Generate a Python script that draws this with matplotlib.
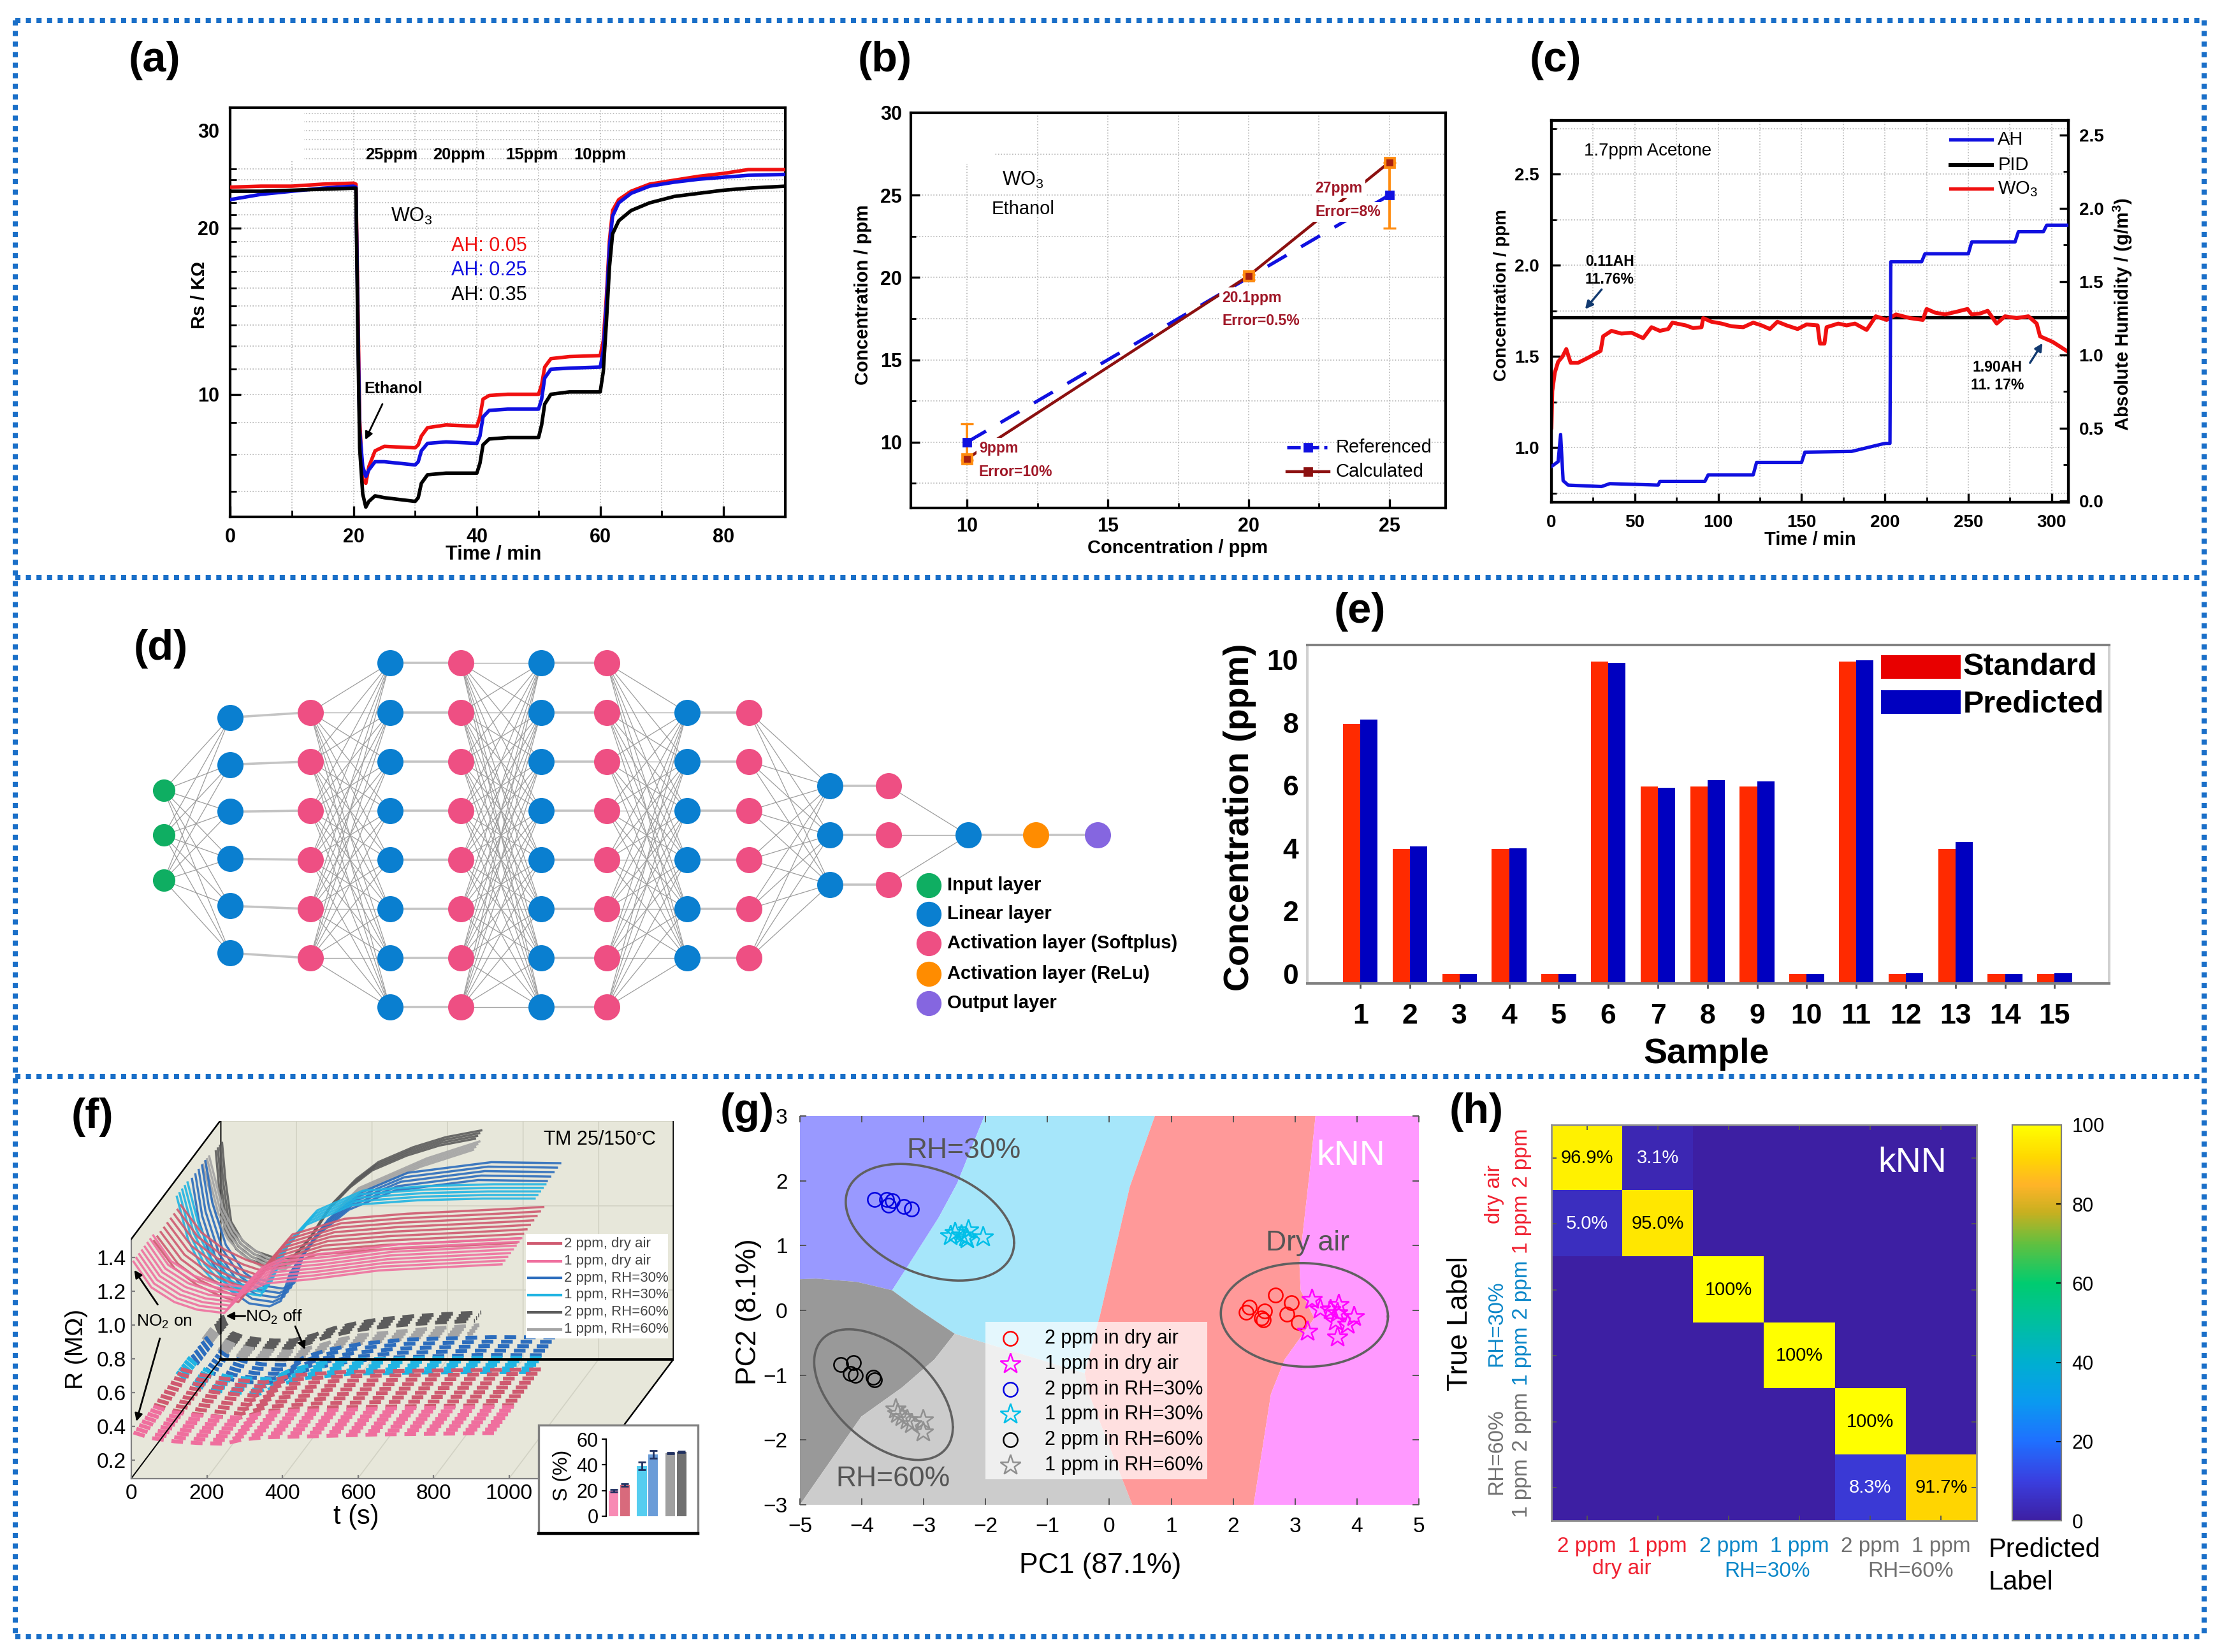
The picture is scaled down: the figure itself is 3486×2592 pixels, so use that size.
import numpy as np
import matplotlib
matplotlib.use("Agg")
import matplotlib.pyplot as plt
from matplotlib.colors import LinearSegmentedColormap
from matplotlib.patches import Rectangle, Polygon

plt.rcParams['font.family'] = ['Liberation Sans', 'DejaVu Sans']
plt.rcParams['mathtext.fontset'] = 'custom'
plt.rcParams['mathtext.rm'] = 'Liberation Sans'
plt.rcParams['mathtext.it'] = 'Liberation Sans'
plt.rcParams['mathtext.bf'] = 'Liberation Sans:bold'
plt.rcParams['mathtext.default'] = 'regular'

W, H = 3487, 2592
DPI = 200

## panel a ##
a_t = [0, 5, 10, 15, 20, 20.4, 20.7, 21, 21.5, 22, 22.5, 23.5, 25, 30, 30.5, 31, 32, 35, 40, 40.5, 41, 42, 45, 50,
       50.5, 51, 52, 55, 60, 60.5, 61, 61.5, 62, 63, 65, 68, 72, 76, 80, 84, 90]
a_red = [23.7, 23.8, 23.8, 24.0, 24.1, 24.0, 15, 9.0, 7.0, 6.9, 7.4, 7.9, 8.05, 8.0, 8.1, 8.4, 8.7, 8.8, 8.75, 9.1,
         9.8, 9.95, 10.0, 10.0, 10.4, 11.2, 11.6, 11.7, 11.75, 12.5, 15, 19, 21.5, 22.5, 23.3, 24.0, 24.4, 24.8,
         25.1, 25.5, 25.5]
a_blue = [22.5, 23.0, 23.3, 23.6, 23.8, 23.7, 14, 8.6, 7.4, 7.1, 7.3, 7.55, 7.55, 7.45, 7.55, 7.9, 8.15, 8.2, 8.15,
          8.4, 9.1, 9.35, 9.4, 9.4, 9.8, 10.7, 11.1, 11.15, 11.2, 12, 14.5, 18.5, 21, 22.2, 23.1, 23.8, 24.2, 24.5,
          24.7, 24.9, 25.0]
a_black = [23.3, 23.3, 23.4, 23.5, 23.6, 23.6, 13, 8.0, 6.6, 6.25, 6.4, 6.55, 6.5, 6.4, 6.5, 6.9, 7.15, 7.2, 7.2,
           7.5, 8.1, 8.3, 8.35, 8.35, 8.8, 9.6, 10.0, 10.1, 10.1, 11, 13.5, 17, 19.5, 20.6, 21.5, 22.2, 22.8, 23.1,
           23.4, 23.6, 23.8]

## panel b ##
b_x = [10, 20, 25]
b_ref = [10, 20, 25]
b_calc = [9, 20.1, 27]
b_err = [1.1, 0.15, 2]

## panel c ##
c_ah_t = [0, 4, 5.5, 7, 10, 30, 35, 64, 65, 92, 94, 121, 123, 150, 152, 180, 200, 203, 203.5, 222, 224, 250, 252,
          278, 280, 295, 297, 310]
c_ah = [0.237, 0.27, 0.456, 0.14, 0.11, 0.10, 0.12, 0.11, 0.135, 0.135, 0.18, 0.18, 0.265, 0.265, 0.335, 0.34, 0.395,
        0.395, 1.635, 1.635, 1.69, 1.69, 1.77, 1.77, 1.84, 1.84, 1.885, 1.885]
c_wo3_t = [0, 0.5, 2, 4, 6.7, 8.9, 11.5, 16, 21.5, 29.5, 31, 36, 42, 48, 55, 60, 65, 70, 72.5, 80.5, 85, 90, 91, 96,
           102, 108, 115, 121, 126, 131, 135.5, 141, 147.6, 153, 159.6, 161, 163.7, 165, 172, 177, 182, 189, 194.5,
           201, 206.6, 215, 222.7, 225, 230, 236, 243, 249.5, 252, 257, 261.6, 267, 272, 279, 286, 291, 293, 300.5, 309]
c_wo3 = [1.11, 1.31, 1.41, 1.47, 1.50, 1.54, 1.465, 1.465, 1.49, 1.53, 1.61, 1.64, 1.625, 1.63, 1.60, 1.66, 1.64,
         1.65, 1.685, 1.67, 1.655, 1.66, 1.71, 1.69, 1.68, 1.665, 1.66, 1.685, 1.67, 1.65, 1.69, 1.67, 1.65, 1.675,
         1.67, 1.57, 1.57, 1.66, 1.68, 1.67, 1.68, 1.645, 1.72, 1.70, 1.73, 1.71, 1.70, 1.76, 1.74, 1.73, 1.745, 1.76,
         1.73, 1.735, 1.75, 1.68, 1.72, 1.71, 1.72, 1.68, 1.61, 1.58, 1.53]
c_pid = 1.714

## panel d ##
layer_x = [71, 167, 283, 398, 501, 617, 712, 828, 918, 1035, 1120, 1235, 1333, 1422]
layer_n = [3, 6, 6, 8, 8, 8, 8, 6, 6, 3, 3, 1, 1, 1]
layer_kind = ['in', 'lin', 'soft', 'lin', 'soft', 'lin', 'soft', 'lin', 'soft', 'lin', 'soft', 'lin', 'relu', 'out']
layer_full = [True, False, True, False, True, False, True, False, True, False, True, False, False]
d_colors = {'in': '#0fae62', 'lin': '#0a7fd0', 'soft': '#ee4f83', 'relu': '#ff8c00', 'out': '#8566e0'}
d_legend = [('in', 'Input layer'), ('lin', 'Linear layer'), ('soft', 'Activation layer (Softplus)'),
            ('relu', 'Activation layer (ReLu)'), ('out', 'Output layer')]

## panel e ##
e_samples = list(range(1, 16))
e_standard = [7.95, 3.97, 0, 3.97, 0, 9.95, 5.97, 5.97, 5.97, 0, 9.95, 0, 3.97, 0, 0]
e_predicted = [8.1, 4.05, 0, 4.0, 0, 9.9, 5.92, 6.17, 6.12, 0, 9.98, 0.02, 4.2, 0, 0.02]

## panel f ##
f_pink1_t = [6, 53, 114, 174, 246, 294, 355, 475, 655, 938, 980]
f_pink1 = [1.374, 1.222, 1.135, 1.09, 1.07, 1.184, 1.245, 1.27, 1.322, 1.354, 1.358]
f_pink2_t = [1, 55, 115, 175, 224, 296, 434, 600, 880, 960]
f_pink2 = [1.32, 1.159, 1.059, 0.996, 0.959, 1.147, 1.24, 1.27, 1.30, 1.31]
f_blue1_t = [2, 32, 68, 104, 147, 224, 273, 345, 466, 640, 812, 949]
f_blue1 = [1.406, 1.15, 0.986, 0.898, 0.848, 0.82, 1.06, 1.24, 1.357, 1.385, 1.395, 1.395]
f_blue2_t = [9, 27, 63, 112, 160, 214, 244, 268, 334, 424, 544, 766, 948]
f_blue2 = [1.413, 1.167, 0.916, 0.752, 0.676, 0.658, 0.69, 0.854, 1.067, 1.23, 1.343, 1.406, 1.40]
f_gray1_t = [0, 35, 66, 102, 156, 215, 282, 340, 396, 486, 576, 715]
f_gray1 = [1.384, 1.08, 0.944, 0.855, 0.78, 0.76, 0.893, 1.07, 1.196, 1.284, 1.372, 1.472]
f_gray2_t = [8, 16.5, 32, 62, 98, 146, 194, 249, 303, 363, 422, 513, 600, 694]
f_gray2 = [1.386, 1.173, 0.92, 0.807, 0.744, 0.707, 0.707, 0.846, 1.034, 1.172, 1.273, 1.36, 1.42, 1.46]
f_families = [
    ('1 ppm, dry air', '#ef6f9e', f_pink1_t, f_pink1, 0.00, 0.22, 8),
    ('2 ppm, dry air', '#cf5a70', f_pink2_t, f_pink2, 0.25, 0.55, 9),
    ('1 ppm, RH=30%', '#20b4e2', f_blue1_t, f_blue1, 0.50, 0.62, 5),
    ('2 ppm, RH=30%', '#2c6dbd', f_blue2_t, f_blue2, 0.64, 0.79, 5),
    ('1 ppm, RH=60%', '#a4a4a4', f_gray1_t, f_gray1, 0.80, 0.87, 4),
    ('2 ppm, RH=60%', '#5c5c5c', f_gray2_t, f_gray2, 0.91, 0.98, 4),
]
f_inset_x = [1, 2, 3.5, 4.5, 6, 7]
f_inset_s = [20, 24.5, 39, 48, 49, 50]
f_inset_err = [1, 1, 3, 3, 0.5, 0.5]
f_inset_c = ['#f88ab4', '#d86a7c', '#55cdf0', '#6a9cd8', '#a0a0a0', '#707070']

## panel g ##
g_red_c = ([2.68, 2.94, 2.87, 3.05, 2.26, 2.21, 2.51, 2.46, 2.49], [0.24, 0.12, -0.06, -0.19, 0.05, -0.03, -0.01, -0.12, -0.15])
g_mag_s = ([3.27, 3.40, 3.20, 3.70, 3.68, 3.65, 3.95, 3.85, 3.68, 3.57], [0.17, 0.02, -0.32, 0.09, -0.04, -0.17, -0.10, -0.22, -0.41, 0.01])
g_blue_c = ([-3.79, -3.60, -3.51, -3.57, -3.32, -3.20], [1.71, 1.71, 1.69, 1.62, 1.60, 1.56])
g_cyan_s = ([-2.57, -2.50, -2.28, -2.32, -2.39, -2.04, -2.30], [1.15, 1.20, 1.24, 1.13, 1.16, 1.13, 1.10])
g_black_c = ([-4.34, -4.13, -4.19, -4.10, -3.82, -3.79], [-0.84, -0.81, -0.97, -1.00, -1.03, -1.07])
g_gray_s = ([-3.46, -3.35, -3.27, -3.01, -3.01, -3.20, -3.42], [-1.52, -1.64, -1.69, -1.69, -1.88, -1.75, -1.59])
g_regions = [
    ('#9999ff', [(-5, 3), (-2.02, 3), (-2.46, 1.96), (-2.76, 1.43), (-3.24, 0.71), (-3.51, 0.31), (-4.08, 0.44), (-4.74, 0.49), (-5, 0.48)]),
    ('#a6e6fa', [(-2.02, 3), (0.735, 3), (0.33, 1.91), (-0.15, -0.07), (-0.4, -0.97), (-2.5, -0.36), (-3.125, 0.04), (-3.51, 0.31), (-3.24, 0.71), (-2.76, 1.43), (-2.46, 1.96)]),
    ('#999999', [(-5, 0.48), (-4.74, 0.49), (-4.08, 0.44), (-3.51, 0.31), (-3.125, 0.04), (-2.5, -0.36), (-2.83, -0.76), (-3.35, -1.19), (-4.01, -1.64), (-5, -3)]),
    ('#cccccc', [(-5, -3), (-4.01, -1.64), (-3.35, -1.19), (-2.83, -0.76), (-2.5, -0.36), (-0.4, -0.97), (-0.33, -1.29), (0.37, -3)]),
    ('#ff9999', [(0.735, 3), (3.33, 3), (3.24, 2.17), (3.07, 0.73), (3.09, 0.31), (3.31, -0.12), (2.83, -0.76), (2.61, -1.29), (2.33, -3), (0.37, -3), (-0.33, -1.29), (-0.4, -0.97), (-0.15, -0.07), (0.33, 1.91)]),
    ('#ff99ff', [(3.33, 3), (5, 3), (5, -3), (2.33, -3), (2.61, -1.29), (2.83, -0.76), (3.31, -0.12), (3.09, 0.31), (3.07, 0.73), (3.24, 2.17)]),
]
# centre x, centre y, half width, half height, tilt
g_ellipses = [(-2.9, 1.36, 1.36, 0.90, -0.35), (3.15, -0.07, 1.35, 0.80, -0.03), (-3.65, -1.30, 1.12, 1.008, -0.5)]

## panel h ##
h_matrix = np.array([
    [96.9, 3.1, 0, 0, 0, 0],
    [5.0, 95.0, 0, 0, 0, 0],
    [0, 0, 100, 0, 0, 0],
    [0, 0, 0, 100, 0, 0],
    [0, 0, 0, 0, 100, 0],
    [0, 0, 0, 0, 8.3, 91.7],
])
h_text = {(0, 0): '96.9%', (0, 1): '3.1%', (1, 0): '5.0%', (1, 1): '95.0%', (2, 2): '100%', (3, 3): '100%',
          (4, 4): '100%', (5, 4): '8.3%', (5, 5): '91.7%'}
h_ticks = ['2 ppm', '1 ppm', '2 ppm', '1 ppm', '2 ppm', '1 ppm']
h_tick_c = ['#f02030', '#f02030', '#0a86c8', '#0a86c8', '#707070', '#707070']
parula_stops = [(0, '#3d1fa3'), (0.10, '#3a3fe0'), (0.20, '#1f70ff'), (0.30, '#0a9af0'), (0.40, '#00afd0'),
                (0.50, '#00bfa0'), (0.60, '#00cc70'), (0.70, '#60c040'), (0.78, '#c8b020'), (0.85, '#ffb428'),
                (0.92, '#ffd700'), (1.0, '#ffff00')]


fig = plt.figure(figsize=(W / DPI, H / DPI), dpi=DPI, facecolor='white')


def add_ax(l, t, r, b):
    return fig.add_axes([l / W, 1 - b / H, (r - l) / W, (b - t) / H])


# overlay in pixels for frames, captions and hand placed keys
ov = fig.add_axes([0, 0, 1, 1], zorder=10)
ov.set_xlim(0, W)
ov.set_ylim(H, 0)
ov.axis('off')


# crop readings back to pixels
def za(x, y): return 100 + x / 1.3, 30 + y / 1.78
def zb(x, y): return 1300 + x / 1.493, 30 + y / 1.78
def zc(x, y): return 2350 + x / 1.4255, 30 + y / 1.78
def ze(x, y): return 1880 + x / 1.081, 920 + y / 2.01
def zf(x, y): return 80 + x / 1.493, 1700 + y / 1.845
def zg(x, y): return 1130 + x / 1.4, 1700 + y / 1.845
def zh(x, y): return 2250 + x / 1.4255, 1700 + y / 1.845


def txt(pos, s, size, **kw):
    kw.setdefault('ha', 'center')
    kw.setdefault('va', 'center')
    ov.text(pos[0], pos[1], s, fontsize=size, **kw)


def arrow(p0, p1, color='black', lw=1.0):
    ov.annotate('', xy=p1, xytext=p0, arrowprops=dict(arrowstyle='-|>', color=color, lw=lw, mutation_scale=9, shrinkA=0, shrinkB=0))


# dotted frames
frame_c = '#1a6fc8'
for y in (32, 906, 1689, 2568):
    ov.plot([24, 3458], [y, y], color=frame_c, lw=2.9, ls=(0, (1, 1.06)))
for x in (24, 3458):
    ov.plot([x, x], [32, 2568], color=frame_c, lw=2.9, ls=(0, (1, 1.06)))

for pos, s in [((242, 95), '(a)'), ((1388, 95), '(b)'), ((2440, 95), '(c)'), ((252, 1018), '(d)'), ((2133, 960), '(e)'),
               ((145, 1753), '(f)'), ((1172, 1745), '(g)'), ((2316, 1745), '(h)')]:
    txt(pos, s, 24, fontweight='bold')


def style_box(ax, lw=1.4):
    for s in ax.spines.values():
        s.set_linewidth(lw)
    ax.set_axisbelow(True)


## (a) ##
ax = add_ax(361, 169, 1232, 811)
ax.set_yscale('log')
ax.set_xlim(0, 90)
ax.set_ylim(6, 33)
ax.set_xticks([0, 20, 40, 60, 80])
ax.set_xticks([10, 30, 50, 70], minor=True)
ax.set_yticks([10, 20, 30])
ax.set_yticklabels(['10', '20', '30'])
ax.set_yticks([v for v in np.arange(1, 30) * 10 / 9 + 10 * 5 / 9 if 6 < v < 33 and round(v, 3) not in (10, 20, 30)], minor=True)
ax.yaxis.set_minor_formatter(plt.NullFormatter())
ax.tick_params(which='major', direction='in', length=6, width=1.2, labelsize=11, pad=6)
ax.tick_params(which='minor', direction='in', length=3.5, width=1.0)
for lab in ax.get_xticklabels() + ax.get_yticklabels():
    lab.set_fontweight('bold')
ax.grid(True, which='both', color='#b4b4b4', ls=':', lw=0.6)
ax.add_patch(Rectangle((0, 26.4), 12, 8, fc='white', ec='none', zorder=1))
ax.plot(a_t, a_red, color='#f01010', lw=2.0, zorder=3)
ax.plot(a_t, a_blue, color='#1010e0', lw=2.0, zorder=3)
ax.plot(a_t, a_black, color='black', lw=2.0, zorder=4)
style_box(ax, 1.5)
txt(za(877, 1495), 'Time / min', 11, fontweight='bold')
txt(za(277, 770), 'Rs / KΩ', 10.5, rotation=90, fontweight='bold')
for xz, s in [(668, '25ppm'), (806, '20ppm'), (955, '15ppm'), (1094, '10ppm')]:
    txt(za(xz, 380), s, 9.2, fontweight='bold')
txt(za(710, 550), 'WO$_3$', 11)
txt(za(868, 634), 'AH: 0.05', 11, color='#f01010')
txt(za(868, 702), 'AH: 0.25', 11, color='#1010e0')
txt(za(868, 770), 'AH: 0.35', 11, color='black')
txt(za(672, 1033), 'Ethanol', 9, fontweight='bold')
arrow(za(650, 1075), za(615, 1175))

## (b) ##
ax = add_ax(1429, 177, 2268, 797)
ax.set_xlim(8, 27)
ax.set_ylim(6, 30)
ax.set_xticks([10, 15, 20, 25])
ax.set_xticks([12.5, 17.5, 22.5], minor=True)
ax.set_yticks([10, 15, 20, 25, 30])
ax.set_yticks([7.5, 12.5, 17.5, 22.5, 27.5], minor=True)
ax.tick_params(which='major', direction='in', length=5, width=1.2, labelsize=11, pad=5)
ax.tick_params(which='minor', direction='in', length=3, width=1.0)
for lab in ax.get_xticklabels() + ax.get_yticklabels():
    lab.set_fontweight('bold')
ax.grid(True, which='both', color='#b4b4b4', ls=':', lw=0.6)
ax.add_patch(Rectangle((8, 26.9), 2.97, 3.1, fc='white', ec='none', zorder=1))
ax.plot(b_x, b_ref, color='#1010e0', lw=1.9, ls=(0, (6.5, 5)), zorder=3)
ax.plot(b_x, b_ref, color='#1010e0', ls='none', marker='s', ms=4.5, zorder=5.5)
ax.errorbar(b_x, b_ref, yerr=b_err, fmt='none', ecolor='#ff8c10', elinewidth=1.4, capsize=3.5, capthick=1.2, zorder=4)
ax.plot(b_x, b_calc, color='#8c1010', lw=1.6, zorder=5)
ax.plot(b_x, b_calc, ls='none', marker='s', ms=5.5, mfc='#ff8c10', mec='#ff8c10', zorder=5.6)
ax.plot(b_x, b_calc, ls='none', marker='s', ms=3, color='#a82010', zorder=5.7)
style_box(ax, 1.5)
txt(zb(818, 1478), 'Concentration / ppm', 10.5, fontweight='bold')
txt(zb(80, 770), 'Concentration / ppm', 10.5, rotation=90, fontweight='bold')
txt(zb(455, 450), 'WO$_3$', 11)
txt(zb(455, 530), 'Ethanol', 10.5)
white = dict(fc='white', ec='none', pad=1.5)
for pos, s in [((352, 1198), '9ppm'), ((352, 1265), 'Error=10%'), ((922, 778), '20.1ppm'), ((922, 842), 'Error=0.5%'),
               ((1140, 472), '27ppm'), ((1140, 538), 'Error=8%')]:
    txt(zb(*pos), s, 8.3, color='#a01828', fontweight='bold', ha='left', bbox=white)
ov.plot(*zip(zb(1073, 1196), zb(1168, 1196)), color='#1010e0', lw=1.9, ls=(0, (4, 1.5)))
ov.plot(*zb(1123, 1196), marker='s', ms=4.5, color='#1010e0')
ov.plot(*zip(zb(1073, 1263), zb(1172, 1263)), color='#8c1010', lw=1.6)
ov.plot(*zb(1123, 1263), marker='s', ms=4.5, color='#8c1010')
txt(zb(1188, 1196), 'Referenced', 10.5, ha='left')
txt(zb(1188, 1263), 'Calculated', 10.5, ha='left')

## (c) ##
ax = add_ax(2434, 189, 3245, 788)
ax.set_xlim(0, 310)
ax.set_ylim(0.70, 2.794)
ax.set_xticks([0, 50, 100, 150, 200, 250, 300])
ax.set_xticks([25, 75, 125, 175, 225, 275], minor=True)
ax.set_yticks([1.0, 1.5, 2.0, 2.5])
ax.set_yticks([0.75, 1.25, 1.75, 2.25, 2.75], minor=True)
ax.tick_params(which='major', direction='in', length=5, width=1.2, labelsize=10, pad=7)
ax.tick_params(which='minor', direction='in', length=3, width=1.0)
for lab in ax.get_xticklabels() + ax.get_yticklabels():
    lab.set_fontweight('bold')
ax.grid(True, which='both', color='#b4b4b4', ls=':', lw=0.6)
ax.axhline(c_pid, color='black', lw=1.9, zorder=3)
ax.plot(c_wo3_t, c_wo3, color='#f01010', lw=2.2, zorder=4)
style_box(ax, 1.5)
ax2 = ax.twinx()
ax2.set_ylim(-0.007, 2.6)
ax2.set_yticks([0, 0.5, 1.0, 1.5, 2.0, 2.5])
ax2.set_yticklabels(['0.0', '0.5', '1.0', '1.5', '2.0', '2.5'])
ax2.set_yticks([0.25, 0.75, 1.25, 1.75, 2.25], minor=True)
ax2.tick_params(which='major', direction='in', length=5, width=1.2, labelsize=10, pad=6)
ax2.tick_params(which='minor', direction='in', length=3, width=1.0)
for lab in ax2.get_yticklabels():
    lab.set_fontweight('bold')
ax2.plot(c_ah_t, c_ah, color='#1010e0', lw=1.9, zorder=5)
for s in ax2.spines.values():
    s.set_linewidth(1.5)
txt(zc(698, 1455), 'Time / min', 10.5, fontweight='bold')
txt(zc(8, 770), 'Concentration / ppm', 10, rotation=90, fontweight='bold')
txt(zc(1398, 825), 'Absolute Humidity / (g/m$^3$)', 10.5, rotation=90, fontweight='bold')
txt(zc(335, 368), '1.7ppm Acetone', 10)
txt(zc(250, 678), '0.11AH', 8.3, fontweight='bold')
txt(zc(250, 727), '11.76%', 8.3, fontweight='bold')
txt(zc(1117, 972), '1.90AH', 8.3, fontweight='bold')
txt(zc(1117, 1023), '11. 17%', 8.3, fontweight='bold')
arrow(zc(232, 755), zc(195, 810), color='#123a70', lw=1.2)
arrow(zc(1190, 960), zc(1218, 905), color='#123a70', lw=1.2)
for y, c, s, lw in [(337, '#1010e0', 'AH', 1.9), (408, 'black', 'PID', 2.2), (474, '#f01010', 'WO$_3$', 1.9)]:
    ov.plot(*zip(zc(1012, y), zc(1105, y)), color=c, lw=lw)
    txt(zc(1118, y), s, 10.5, ha='left')

## (d) ##
ax = add_ax(180, 950, 1880, 1670)
ax.set_xlim(0, 1568)
ax.set_ylim(1568, 0)
ax.axis('off')
d_spacing = {8: 168, 6: 168, 3: 168, 1: 0}
layers = []
for i, (x, n) in enumerate(zip(layer_x, layer_n)):
    step = d_spacing[n]
    if i == 0:
        step = 154
    if i == 1:
        step = 161
    layers.append([(x, 785 + (k - (n - 1) / 2) * step) for k in range(n)])
for i, full in enumerate(layer_full):
    if full:
        for p in layers[i]:
            for q in layers[i + 1]:
                ax.plot([p[0], q[0]], [p[1], q[1]], color='#9c9c9c', lw=0.45, zorder=1)
    else:
        for p, q in zip(layers[i], layers[i + 1]):
            ax.plot([p[0], q[0]], [p[1], q[1]], color='#c4c4c4', lw=1.3, zorder=1)
for i, pts in enumerate(layers):
    size = 160 if layer_kind[i] == 'in' else 218
    ax.scatter([p[0] for p in pts], [p[1] for p in pts], s=size, color=d_colors[layer_kind[i]], lw=0, zorder=2)
for (kind, s), y in zip(d_legend, [955, 1055, 1155, 1258, 1358]):
    ax.scatter([1178], [y], s=200, color=d_colors[kind], lw=0, zorder=2)
    ax.text(1205, y, s, fontsize=10.5, fontweight='bold', va='center', ha='left')

## (e) ##
ax = add_ax(2051, 1012, 3309, 1543)
ax.set_xlim(-0.07, 16.1)
e_floor = -0.31
ax.set_ylim(e_floor, 10.47)
e_x = np.array(e_samples)
ax.bar(e_x - 0.175, np.array(e_standard) - e_floor, 0.35, bottom=e_floor, color='#ff2a00')
ax.bar(e_x + 0.175, np.array(e_predicted) - e_floor, 0.35, bottom=e_floor, color='#0000c0')
ax.set_xticks(e_samples)
ax.set_yticks([0, 2, 4, 6, 8, 10])
ax.tick_params(axis='x', direction='out', length=3, width=1, labelsize=16, pad=8, color='#555555')
ax.tick_params(axis='y', length=0, labelsize=16, pad=5)
for lab in ax.get_xticklabels() + ax.get_yticklabels():
    lab.set_fontweight('bold')
for s in ax.spines.values():
    s.set_color('#808080')
    s.set_linewidth(1.4)
ax.spines['left'].set_color('#d0d0d0')
ax.spines['right'].set_color('#d0d0d0')
txt(ze(862, 1475), 'Sample', 20, fontweight='bold')
txt(ze(70, 728), 'Concentration (ppm)', 20, rotation=90, fontweight='bold')
ov.add_patch(Rectangle(ze(1158, 218), 125, 37, fc='#e80000', ec='none'))
ov.add_patch(Rectangle(ze(1158, 328), 125, 37, fc='#0000c0', ec='none'))
txt(ze(1297, 255), 'Standard', 17.5, ha='left', fontweight='bold')
txt(ze(1297, 372), 'Predicted', 17.5, ha='left', fontweight='bold')

## (f) ##
ax = add_ax(206, 1758.5, 1056.6, 2319.5)
ax.set_xlim(0, 1435)
ax.set_ylim(0.0916, 2.208)
f_t0, f_t1, f_r0, f_r1 = 0, 1198, 0.0916, 1.508
f_dt, f_dr = 237, 0.705   # offset of the back wall
wall = '#e7e7da'
ax.patch.set_alpha(0)
ax.add_patch(Polygon([(f_t0, f_r0), (f_t1, f_r0), (f_t1 + f_dt, f_r0 + f_dr), (f_t1 + f_dt, f_r1 + f_dr),
                      (f_t0 + f_dt, f_r1 + f_dr), (f_t0, f_r1)], fc=wall, ec='none', zorder=0))
for t in [200, 400, 600, 800, 1000]:
    ax.plot([t, t + f_dt, t + f_dt], [f_r0, f_r0 + f_dr, f_r1 + f_dr], color='#d2d2c4', lw=0.6, zorder=0.5)
for r in [0.5, 1.0, 1.5]:
    ax.plot([f_t0 + f_dt, f_t1 + f_dt], [r + f_dr, r + f_dr], color='#d2d2c4', lw=0.6, zorder=0.5)
for label, color, ts, rs, d0, d1, n in reversed(f_families):
    ts = np.array(ts, dtype=float)
    rs = np.array(rs, dtype=float)
    for d in np.linspace(d0, d1, n):
        shadow = 0.36 + (rs - 1.36) * 0.22
        ax.plot(ts + d * f_dt, shadow + d * f_dr, color=color, lw=2.2, ls=(0, (3, 2)), zorder=1)
        ax.plot(ts + d * f_dt, rs + d * f_dr, color=color, lw=1.25, zorder=3, alpha=0.9)
ax.plot([f_t0, f_t0 + f_dt, f_t0 + f_dt], [f_r0, f_r0 + f_dr, f_r1 + f_dr], color='black', lw=0.7, zorder=2)
ax.plot([f_t0 + f_dt, f_t1 + f_dt], [f_r0 + f_dr, f_r0 + f_dr], color='black', lw=1.4, zorder=4)
ax.plot([f_t0, f_t0 + f_dt, f_t1 + f_dt, f_t1 + f_dt, f_t1], [f_r1, f_r1 + f_dr, f_r1 + f_dr, f_r0 + f_dr, f_r0],
        color='black', lw=0.9, zorder=4)
for s in ['top', 'right']:
    ax.spines[s].set_visible(False)
ax.spines['left'].set_bounds(f_r0, f_r1)
ax.spines['bottom'].set_bounds(f_t0, f_t1)
ax.spines['left'].set_color('#808080')
ax.spines['bottom'].set_color('#808080')
ax.set_xticks([0, 200, 400, 600, 800, 1000])
ax.set_yticks([0.2, 0.4, 0.6, 0.8, 1.0, 1.2, 1.4])
ax.tick_params(axis='both', labelsize=12, length=2, direction='in', color='#808080', pad=3)
txt(zf(715, 1255), 't (s)', 15)
txt(zf(60, 770), 'R (MΩ)', 14, rotation=90)
txt(zf(1285, 162), 'TM 25/150$^{\\circ}$C', 11)
ov.add_patch(Rectangle(zf(1113, 435), (1445 - 1113) / 1.493, (738 - 435) / 1.845, fc='white', ec='none', zorder=2))
for y, fam in zip([464, 514, 563, 612, 662, 712], [1, 0, 3, 2, 5, 4]):
    label, color = f_families[fam][:2]
    ov.plot(*zip(zf(1118, y), zf(1195, y)), color=color, lw=1.5, zorder=3)
    txt(zf(1202, y), label, 8, ha='left', color='#444444', zorder=3)
txt(zf(265, 690), 'NO$_2$ on', 9.5)
txt(zf(522, 676), 'NO$_2$ off', 9.5)
arrow(zf(250, 640), zf(195, 540))
arrow(zf(255, 738), zf(200, 978))
arrow(zf(455, 673), zf(410, 673))
arrow(zf(572, 703), zf(595, 770))
ov.add_patch(Rectangle(zf(1142, 988), 250, 170.5, fc='white', ec='#808080', lw=1.2, zorder=2))
ov.plot(*zip(zf(1142, 1302), zf(1515, 1302)), color='black', lw=1.6, zorder=3)
axi = add_ax(951, 2258, 1080, 2379)
axi.set_zorder(20)
axi.patch.set_alpha(0)
axi.bar(f_inset_x, f_inset_s, 0.85, color=f_inset_c, yerr=f_inset_err, error_kw=dict(ecolor='#203060', lw=1, capsize=2))
axi.set_xlim(0.35, 7.6)
axi.set_ylim(0, 60)
axi.set_xticks([])
axi.set_yticks([0, 20, 40, 60])
axi.tick_params(labelsize=11, length=2.5, pad=2)
for s in ['top', 'right', 'bottom']:
    axi.spines[s].set_visible(False)
ov.text(*zf(1198, 1135), 'S (%)', fontsize=11.5, rotation=90, ha='center', va='center', zorder=30)

## (g) ##
ax = add_ax(1255, 1751, 2226, 2361)
ax.set_xlim(-5, 5)
ax.set_ylim(-3, 3)
for color, pts in g_regions:
    ax.add_patch(Polygon(pts, fc=color, ec='none', zorder=1))
for s in g_ellipses:
    cx, cy, ax_x, ax_y, rho = s
    th = np.linspace(0, 2 * np.pi, 200)
    ax.plot(cx + ax_x * np.cos(th), cy + ax_y * (rho * np.cos(th) + np.sqrt(1 - rho ** 2) * np.sin(th)),
            color='#606060', lw=1.3, zorder=2)
g_series = [(g_red_c, 'o', '#ff0000'), (g_mag_s, '*', '#ff00ff'), (g_blue_c, 'o', '#0000e0'),
            (g_cyan_s, '*', '#00bfe8'), (g_black_c, 'o', '#000000'), (g_gray_s, '*', '#909090')]
for (xs, ys), m, c in g_series:
    ax.plot(xs, ys, ls='none', marker=m, ms=8 if m == 'o' else 12, mfc='none', mec=c, mew=0.9, zorder=3)
ax.set_xticks(range(-5, 6))
ax.set_yticks(range(-3, 4))
ax.tick_params(direction='in', length=3.5, width=0.7, labelsize=12, pad=7, color='#555555', top=True, right=True)
for s in ax.spines.values():
    s.set_visible(False)
txt(zg(835, 1395), 'PC1 (87.1%)', 16)
txt(zg(62, 660), 'PC2 (8.1%)', 16, rotation=90)
txt(zg(535, 195), 'RH=30%', 16, color='#555555')
txt(zg(380, 1145), 'RH=60%', 16, color='#555555')
txt(zg(1290, 462), 'Dry air', 16, color='#555555')
txt(zg(1385, 210), 'kNN', 20, color='white')
ov.add_patch(Rectangle(zg(583, 690), (1070 - 583) / 1.4, (1145 - 690) / 1.845, fc='white', ec='none', alpha=0.7, zorder=2))
g_leg = ['2 ppm in dry air', '1 ppm in dry air', '2 ppm in RH=30%', '1 ppm in RH=30%', '2 ppm in RH=60%', '1 ppm in RH=60%']
for (data, m, c), s, y in zip(g_series, g_leg, [738, 811, 885, 958, 1032, 1105]):
    ov.plot(*zg(637, y), marker=m, ms=8 if m == 'o' else 12, mfc='none', mec=c, mew=0.9, ls='none', zorder=3)
    txt(zg(712, y), s, 11, ha='left', zorder=3)

## (h) ##
ax = add_ax(2434, 1765, 3101, 2386)
cmap = LinearSegmentedColormap.from_list('parula_like', parula_stops)
im = ax.imshow(h_matrix, cmap=cmap, vmin=0, vmax=100, aspect='auto', interpolation='nearest')
ax.set_xticks(range(6))
ax.set_yticks(range(6))
ax.set_xticklabels(h_ticks, fontsize=12)
ax.set_yticklabels(h_ticks, fontsize=12, rotation=90, va='center')
for lab, c in zip(ax.get_xticklabels(), h_tick_c):
    lab.set_color(c)
for lab, c in zip(ax.get_yticklabels(), h_tick_c):
    lab.set_color(c)
ax.tick_params(direction='in', length=3, width=0.7, color='#555555', top=True, right=True)
ax.tick_params(axis='x', pad=9)
ax.tick_params(axis='y', pad=11)
for s in ax.spines.values():
    s.set_color('#909090')
    s.set_linewidth(1)
for (r, c), s in h_text.items():
    ax.text(c, r, s, fontsize=10.5, ha='center', va='center', color='white' if h_matrix[r, c] < 50 else 'black')
txt(zh(1070, 230), 'kNN', 20, color='white')
cax = add_ax(3157, 1765, 3234, 2386)
cb = fig.colorbar(im, cax=cax, ticks=[0, 20, 40, 60, 80, 100])
cb.ax.tick_params(labelsize=11, direction='in', length=3, width=0.7, pad=6)
cb.outline.set_edgecolor('#808080')
txt(zh(58, 695), 'True Label', 16, rotation=90)
txt(zh(135, 320), 'dry air', 12, rotation=90, color='#f02030')
txt(zh(140, 695), 'RH=30%', 12, rotation=90, color='#0a86c8')
txt(zh(140, 1065), 'RH=60%', 12, rotation=90, color='#707070')
txt(zh(420, 1405), 'dry air', 12, color='#f02030')
txt(zh(745, 1412), 'RH=30%', 12, color='#0a86c8')
txt(zh(1065, 1412), 'RH=60%', 12, color='#707070')
txt(zh(1240, 1350), 'Predicted', 15, ha='left')
txt(zh(1240, 1445), 'Label', 15, ha='left')

fig.savefig('out.png', dpi=DPI, facecolor='white')
